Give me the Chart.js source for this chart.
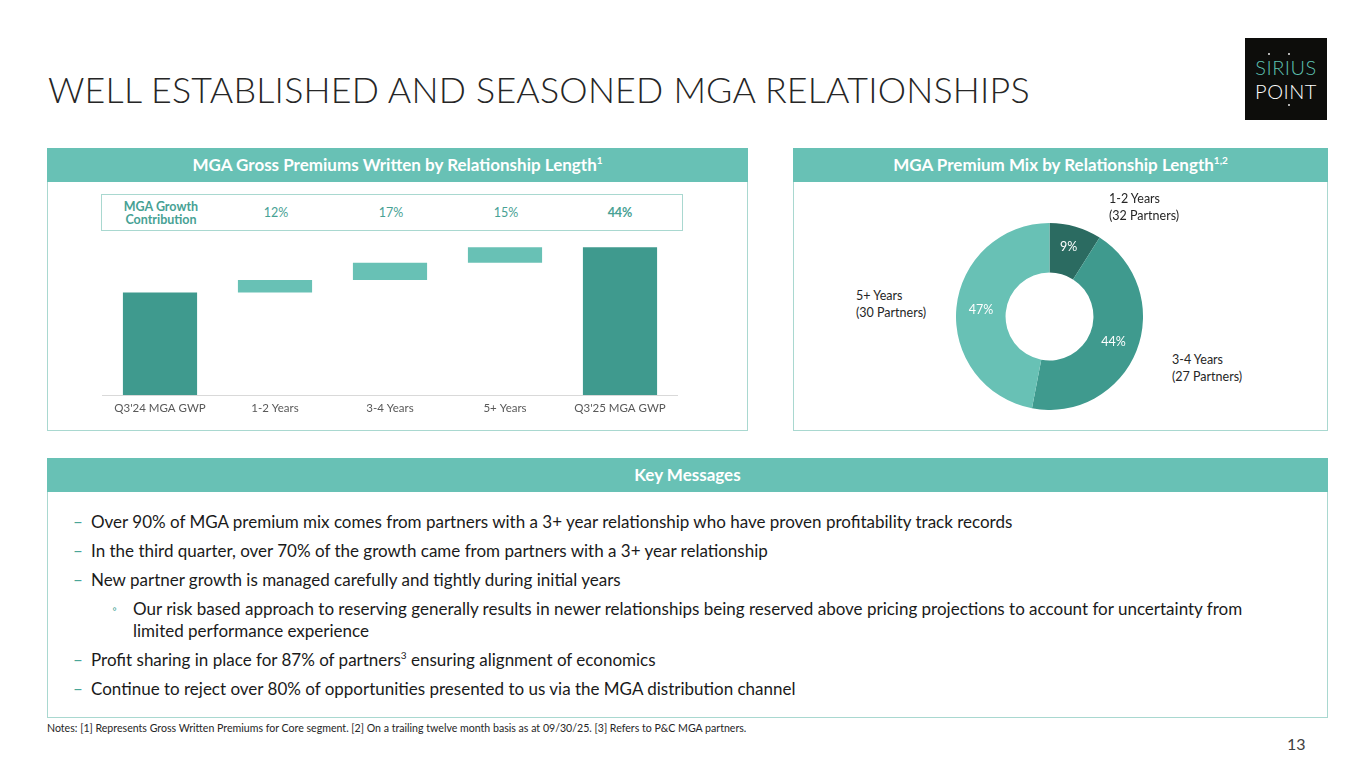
<!DOCTYPE html>
<html>
<head>
<meta charset="utf-8">
<script src="https://cdn.jsdelivr.net/npm/chart.js@4"></script>
<style>
  body { margin: 0; background: #fff; font-family: Lato, "Open Sans", sans-serif; }
  #page { position: relative; width: 1365px; height: 767px; overflow: hidden; }
  .abs { position: absolute; }
  #title { left: 48px; top: 68px; font-size: 35.8px; font-weight: 300; color: #262626; letter-spacing: 0.2px; white-space: nowrap; }
  #logo { left: 1245px; top: 38px; width: 82px; height: 82px; background: #0d0d0b; }
  #logo .w { position: absolute; left: 0; width: 82px; text-align: center; font-size: 20px; line-height: 24px; font-weight: 300; letter-spacing: 0.5px; }
  #logo .dot { position: absolute; width: 2px; height: 2px; background: #e8e8e8; border-radius: 1px; }
  .panel { border: 1px solid #a9d8d0; box-sizing: border-box; }
  .head { position: absolute; left: -1px; right: -1px; top: -1px; height: 34px; background: #68c1b5; color: #fff; font-weight: bold; font-size: 17px; text-align: center; line-height: 34px; }
  .head sup { font-size: 10px; line-height: 0; vertical-align: 7px; }
  #gtable { left: 101px; top: 194px; width: 582px; height: 37px; border: 1px solid #a9d8d0; box-sizing: border-box; }
  .gcell { position: absolute; top: 0; height: 35px; width: 110px; margin-left: -55px; display: flex; align-items: center; justify-content: center; text-align: center; color: #47a194; font-size: 12.5px; line-height: 13px; }
  .plabel { position: absolute; font-size: 12.5px; color: #262626; line-height: 17px; white-space: nowrap; }
  .msg { position: absolute; font-size: 17px; color: #1a1a1a; white-space: nowrap; line-height: 22px; }
  .dash { position: absolute; color: #4aa597; font-size: 17px; line-height: 22px; }
  #notes { left: 47px; top: 722px; font-size: 10.6px; color: #262626; white-space: nowrap; }
  #pnum { left: 1287px; top: 734px; font-size: 16px; color: #404040; }
</style>
</head>
<body>
<div id="page">
  <div id="title" class="abs">WELL ESTABLISHED AND SEASONED MGA RELATIONSHIPS</div>
  <div id="logo" class="abs">
    <div class="w" style="top:17px;color:#5ec0b2;">SIRIUS</div>
    <div class="w" style="top:41px;color:#fff;">POINT</div>
    <div class="dot" style="left:23px;top:15px;"></div>
    <div class="dot" style="left:43px;top:15px;"></div>
    <div class="dot" style="left:43px;top:66px;"></div>
  </div>

  <div class="abs panel" style="left:47px;top:148px;width:701px;height:283px;">
    <div class="head">MGA Gross Premiums Written by Relationship Length<sup>1</sup></div>
  </div>
  <div class="abs panel" style="left:793px;top:148px;width:535px;height:283px;">
    <div class="head">MGA Premium Mix by Relationship Length<sup>1,2</sup></div>
  </div>
  <div class="abs panel" style="left:47px;top:458px;width:1281px;height:260px;">
    <div class="head">Key Messages</div>
  </div>

  <div id="gtable" class="abs"></div>
  <div class="abs" style="left:47px;top:236px;width:700px;height:190px;"><canvas id="barChart"></canvas></div>

  <div class="abs" style="left:955.5px;top:222.5px;width:187px;height:187px;"><canvas id="pieChart"></canvas></div>
  <div id="pieLabels"></div>

  <div id="msgs"></div>

  <div id="notes" class="abs">Notes: [1] Represents Gross Written Premiums for Core segment. [2] On a trailing twelve month basis as at 09/30/25. [3] Refers to P&amp;C MGA partners.</div>
  <div id="pnum" class="abs">13</div>
</div>

<script>
// Waterfall data (index: Q3'24 GWP = 100)
const gwpLabels = ["Q3'24 MGA GWP", "1-2 Years", "3-4 Years", "5+ Years", "Q3'25 MGA GWP"];
const gwpStart = 100;
const gwpSteps = [12, 17, 15];
const gwpEnd = 144;
const growthLabels = ["12%", "17%", "15%", "44%"];

// Donut data
const mixLabels = ["1-2 Years", "3-4 Years", "5+ Years"];
const mixValues = [9, 44, 47];
const mixPartners = [32, 27, 30];

const tealDark = "#3f9a8e";
const tealLight = "#68c1b5";
const tealDeep = "#2b6b61";

// Growth contribution strip
const gt = document.getElementById("gtable");
const colX = [59, 174, 289, 404, 518];
let cell = document.createElement("div");
cell.className = "gcell";
cell.style.left = colX[0] + "px";
cell.style.fontWeight = "bold";
cell.innerHTML = "MGA Growth<br>Contribution";
gt.appendChild(cell);
growthLabels.forEach(function(t, i) {
  const c = document.createElement("div");
  c.className = "gcell";
  c.style.left = colX[i + 1] + "px";
  if (i === growthLabels.length - 1) c.style.fontWeight = "bold";
  c.textContent = t;
  gt.appendChild(c);
});

// Build floating bars
const ranges = [[0, gwpStart]];
let run = gwpStart;
gwpSteps.forEach(function(s) { ranges.push([run, run + s]); run += s; });
ranges.push([0, gwpEnd]);
const barColors = gwpLabels.map(function(_, i) { return (i === 0 || i === gwpLabels.length - 1) ? tealDark : tealLight; });

new Chart(document.getElementById("barChart"), {
  type: "bar",
  data: {
    labels: gwpLabels,
    datasets: [{ data: ranges, backgroundColor: barColors, borderWidth: 0, barPercentage: 0.645, categoryPercentage: 1 }]
  },
  options: {
    responsive: true,
    maintainAspectRatio: false,
    animation: false,
    layout: { padding: { left: 55.5, right: 69.5, top: 0, bottom: 0 } },
    plugins: { legend: { display: false }, tooltip: { enabled: false } },
    scales: {
      x: {
        grid: { display: false, drawTicks: false, tickLength: 0 },
        border: { display: true, color: "#d9d9d9", width: 1 },
        ticks: { color: "#595959", font: { family: "Lato", size: 11.5 }, padding: 6, maxRotation: 0 },
        afterFit: function(s) { s.height = 31; }
      },
      y: { display: false, min: 0, max: 155 }
    }
  }
});

// Donut percentage labels
const arcLabels = {
  id: "arcLabels",
  afterDatasetsDraw: function(chart) {
    const ctx = chart.ctx;
    const meta = chart.getDatasetMeta(0);
    ctx.save();
    ctx.fillStyle = "#fff";
    ctx.font = "12.5px Lato";
    ctx.textAlign = "center";
    ctx.textBaseline = "middle";
    meta.data.forEach(function(arc, i) {
      const p = arc.tooltipPosition();
      ctx.fillText(mixValues[i] + "%", p.x, p.y - (i === 0 ? 4 : 0));
    });
    ctx.restore();
  }
};

new Chart(document.getElementById("pieChart"), {
  type: "doughnut",
  data: {
    labels: mixLabels,
    datasets: [{ data: mixValues, backgroundColor: [tealDeep, tealDark, tealLight], borderWidth: 0 }]
  },
  options: {
    responsive: true,
    maintainAspectRatio: false,
    animation: false,
    cutout: "47%",
    plugins: { legend: { display: false }, tooltip: { enabled: false } }
  },
  plugins: [arcLabels]
});

// Outer slice labels
const outerPos = [[1109, 190], [1172, 351], [856, 287]];
const pl = document.getElementById("pieLabels");
mixLabels.forEach(function(l, i) {
  const d = document.createElement("div");
  d.className = "plabel";
  d.style.left = outerPos[i][0] + "px";
  d.style.top = outerPos[i][1] + "px";
  d.innerHTML = l + "<br>(" + mixPartners[i] + " Partners)";
  pl.appendChild(d);
});

// Key messages
const messages = [
  [0, 511, "Over 90% of MGA premium mix comes from partners with a 3+ year relationship who have proven profitability track records"],
  [0, 540, "In the third quarter, over 70% of the growth came from partners with a 3+ year relationship"],
  [0, 569, "New partner growth is managed carefully and tightly during initial years"],
  [1, 598, "Our risk based approach to reserving generally results in newer relationships being reserved above pricing projections to account for uncertainty from<br>limited performance experience"],
  [0, 649, "Profit sharing in place for 87% of partners<sup style='font-size:10px;line-height:0'>3</sup> ensuring alignment of economics"],
  [0, 678, "Continue to reject over 80% of opportunities presented to us via the MGA distribution channel"]
];
const mb = document.getElementById("msgs");
messages.forEach(function(m) {
  const b = document.createElement("div");
  b.className = "dash";
  b.style.left = (m[0] ? 112 : 73) + "px";
  b.style.top = m[1] + "px";
  b.style.fontSize = m[0] ? "12px" : "17px";
  b.textContent = m[0] ? "◦" : "–";
  mb.appendChild(b);
  const t = document.createElement("div");
  t.className = "msg";
  t.style.left = (m[0] ? 133 : 91) + "px";
  t.style.top = m[1] + "px";
  t.innerHTML = m[2];
  mb.appendChild(t);
});
</script>
</body>
</html>
